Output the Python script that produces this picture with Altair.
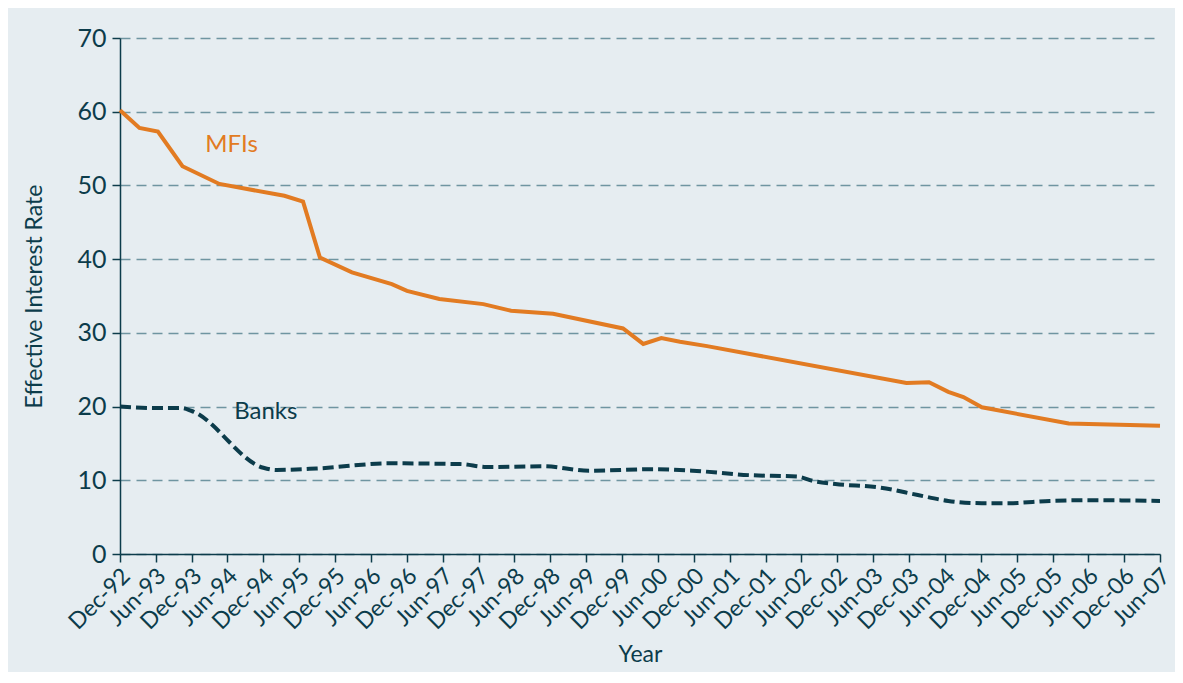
import altair as alt
import pandas as pd

# ---- data ----
tick_labels = ["Dec-92", "Jun-93", "Dec-93", "Jun-94", "Dec-94", "Jun-95", "Dec-95", "Jun-96",
               "Dec-96", "Jun-97", "Dec-97", "Jun-98", "Dec-98", "Jun-99", "Dec-99", "Jun-00",
               "Dec-00", "Jun-01", "Dec-01", "Jun-02", "Dec-02", "Jun-03", "Dec-03", "Jun-04",
               "Dec-04", "Jun-05", "Dec-05", "Jun-06", "Dec-06", "Jun-07"]
y_ticks = [0, 10, 20, 30, 40, 50, 60, 70]

mfi_dates = ["1992-12-01", "1993-03-10", "1993-06-12", "1993-10-15", "1994-04-21", "1995-03-18",
             "1995-06-21", "1995-09-15", "1996-02-25", "1996-09-15", "1996-12-01", "1997-05-15",
             "1997-12-25", "1998-05-15", "1998-12-15", "1999-12-06", "2000-03-18", "2000-06-18",
             "2000-09-21", "2001-02-06", "2003-11-18", "2004-03-12", "2004-06-18", "2004-09-03",
             "2004-12-06", "2006-02-21", "2007-06-01"]
mfi_rates = [60.2, 57.8, 57.3, 52.6, 50.2, 48.6,
             47.8, 40.2, 38.2, 36.6, 35.7, 34.6,
             33.9, 33.0, 32.6, 30.6, 28.5, 29.3,
             28.8, 28.2, 23.2, 23.3, 22.0, 21.3,
             19.9, 17.7, 17.4]

bank_dates = ["1992-12-01", "1993-06-01", "1993-10-10", "1993-12-01", "1994-12-01", "1995-02-06",
              "1995-08-28", "1996-09-06", "1997-08-28", "1998-01-12", "1998-10-25", "1999-06-18",
              "2000-05-15", "2000-11-25", "2001-09-06", "2002-05-12", "2002-08-01", "2002-11-21",
              "2003-07-10", "2004-01-15", "2004-06-18", "2004-12-06", "2005-04-21", "2005-11-18",
              "2006-05-28", "2007-06-01"]
bank_rates = [20.0, 19.8, 19.8, 19.4, 11.7, 11.4,
              11.6, 12.3, 12.2, 11.8, 11.9, 11.3,
              11.5, 11.3, 10.7, 10.5, 9.9, 9.5,
              9.0, 8.0, 7.2, 6.9, 6.9, 7.2,
              7.3, 7.2]

label_names = ["MFIs", "Banks"]
label_dates = ["1994-06-22", "1994-12-13"]
label_rates = [55.5, 19.3]

# ---- styling ----
BG = "#e6edf1"
DARK = "#0c3c4b"
ORANGE = "#e27b22"
GRID = "#6f95a1"
FONT = "Lato"

mfi = pd.DataFrame({"date": mfi_dates, "rate": mfi_rates})
banks = pd.DataFrame({"date": bank_dates, "rate": bank_rates})
labels = pd.DataFrame({"name": label_names, "date": label_dates, "rate": label_rates})


def lab_to_dt(lab):
    mon, yy = lab.split("-")
    yy = int(yy)
    year = 1900 + yy if yy > 50 else 2000 + yy
    month = 12 if mon == "Dec" else 6
    return alt.DateTime(year=year, month=month, date=1, utc=True)


tick_values = [lab_to_dt(l) for l in tick_labels]

x_enc = alt.X(
    "date:T",
    scale=alt.Scale(type="utc", domain=[tick_values[0], tick_values[-1]]),
    axis=alt.Axis(
        values=tick_values, format="%b-%y", labelAngle=-45, labelAlign="right",
        labelBaseline="middle", labelPadding=10, labelOffset=6, labelOverlap=False,
        labelFontSize=23, labelBound=False, labelFlush=False,
        grid=False, title="Year", titlePadding=10,
    ),
)
y_enc = alt.Y(
    "rate:Q",
    scale=alt.Scale(domain=[0, 70]),
    axis=alt.Axis(values=y_ticks, grid=True, gridDash=[10, 6], gridColor=GRID,
                  gridWidth=1.5, title="Effective Interest Rate", labelPadding=6,
                  labelFontSize=25, titlePadding=30),
)

mfi_line = alt.Chart(mfi).mark_line(color=ORANGE, strokeWidth=4).encode(x=x_enc, y=y_enc)
bank_line = alt.Chart(banks).mark_line(
    color=DARK, strokeWidth=4, strokeDash=[11, 5], interpolate="monotone"
).encode(x=x_enc, y=y_enc)

text = alt.Chart(labels).mark_text(font=FONT, fontSize=24, align="center", baseline="middle").encode(
    x=x_enc, y=y_enc, text="name:N",
    color=alt.Color("name:N", scale=alt.Scale(domain=label_names, range=[ORANGE, DARK]), legend=None),
)

chart = (
    alt.layer(mfi_line, bank_line, text)
    .properties(
        width=1040, height=516,
        padding={"left": 112, "top": 30, "right": 15, "bottom": 118},
        autosize=alt.AutoSizeParams(type="none"),
        background=BG,
    )
    .configure_view(strokeWidth=0)
    .configure_axis(
        domainColor=DARK, domainWidth=1.5, tickColor=DARK, tickWidth=1.5, tickSize=8,
        labelColor=DARK, labelFont=FONT, titleColor=DARK,
        titleFont=FONT, titleFontSize=23, titleFontWeight="normal",
    )
)

chart.save("out.html", embed_options={"renderer": "svg", "actions": False})
